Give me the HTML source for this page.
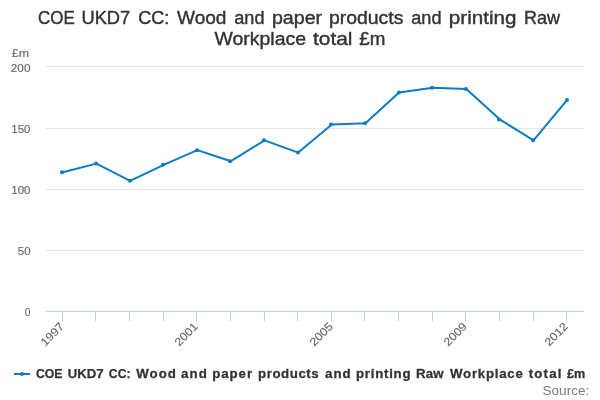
<!DOCTYPE html>
<html lang="en"><head><meta charset="utf-8"><title>COE UKD7 CC: Wood and paper products and printing Raw Workplace total £m</title><style>
html,body{margin:0;padding:0;background:#fff;overflow:hidden;}
svg{display:block;font-family:"Liberation Sans",sans-serif;will-change:transform;}
</style></head><body>
<svg width="600" height="400" viewBox="0 0 600 400">
<rect width="600" height="400" fill="#fff"/>
<path d="M46 66.5H584M46 128.5H584M46 189.5H584M46 250.5H584" stroke="#e6e6e6" stroke-width="1" shape-rendering="crispEdges"/>
<path d="M46 311.5H584M62.5 311V321M95.5 311V321M129.5 311V321M163.5 311V321M196.5 311V321M230.5 311V321M264.5 311V321M297.5 311V321M331.5 311V321M364.5 311V321M398.5 311V321M432.5 311V321M465.5 311V321M499.5 311V321M533.5 311V321M566.5 311V321" stroke="#c3cfea" stroke-width="1" fill="none" shape-rendering="crispEdges"/>
<polyline points="62.81 172.20 96.44 163.62 130.06 180.78 163.69 164.85 197.31 150.15 230.94 161.18 264.56 140.35 298.19 152.60 331.81 124.43 365.44 123.20 399.06 92.58 432.69 87.68 466.31 88.90 499.94 119.53 533.56 140.35 567.19 99.93" fill="none" stroke="#0a7cc4" stroke-width="2" stroke-linejoin="round" stroke-linecap="round"/>
<g fill="#0a7cc4"><circle cx="62" cy="172.20" r="2"/><circle cx="96" cy="163.62" r="2"/><circle cx="130" cy="180.78" r="2"/><circle cx="163" cy="164.85" r="2"/><circle cx="197" cy="150.15" r="2"/><circle cx="230" cy="161.18" r="2"/><circle cx="264" cy="140.35" r="2"/><circle cx="298" cy="152.60" r="2"/><circle cx="331" cy="124.43" r="2"/><circle cx="365" cy="123.20" r="2"/><circle cx="399" cy="92.58" r="2"/><circle cx="432" cy="87.68" r="2"/><circle cx="466" cy="88.90" r="2"/><circle cx="499" cy="119.53" r="2"/><circle cx="533" cy="140.35" r="2"/><circle cx="567" cy="99.93" r="2"/></g>
<g fill="#333" font-size="18.4" stroke="#333" stroke-width="0.4">
<text x="38.0" y="24" textLength="36.75" lengthAdjust="spacingAndGlyphs">COE</text>
<text x="81.51" y="24" textLength="48.72" lengthAdjust="spacingAndGlyphs">UKD7</text>
<text x="138.25" y="24" textLength="31.09" lengthAdjust="spacingAndGlyphs">CC:</text>
<text x="177.0" y="24" textLength="49.49" lengthAdjust="spacingAndGlyphs">Wood</text>
<text x="234.25" y="24" textLength="30.22" lengthAdjust="spacingAndGlyphs">and</text>
<text x="271.93" y="24" textLength="50.2" lengthAdjust="spacingAndGlyphs">paper</text>
<text x="328.94" y="24" textLength="74.51" lengthAdjust="spacingAndGlyphs">products</text>
<text x="411.25" y="24" textLength="30.22" lengthAdjust="spacingAndGlyphs">and</text>
<text x="448.88" y="24" textLength="67.63" lengthAdjust="spacingAndGlyphs">printing</text>
<text x="524.02" y="24" textLength="36.03" lengthAdjust="spacingAndGlyphs">Raw</text>
<text x="214.5" y="45" textLength="91.49" lengthAdjust="spacingAndGlyphs">Workplace</text>
<text x="313.0" y="45" textLength="39.48" lengthAdjust="spacingAndGlyphs">total</text>
<text x="359.25" y="45" textLength="26.08" lengthAdjust="spacingAndGlyphs">£m</text>
</g>
<g fill="#666" font-size="11.3" stroke="#666" stroke-width="0.15">
<text x="11.8" y="57" textLength="17.15" lengthAdjust="spacingAndGlyphs">£m</text>
<text x="10.8" y="72" textLength="19.7" lengthAdjust="spacingAndGlyphs">200</text>
<text x="11.3" y="133" textLength="19.19" lengthAdjust="spacingAndGlyphs">150</text>
<text x="11.3" y="194" textLength="19.19" lengthAdjust="spacingAndGlyphs">100</text>
<text x="17.8" y="255" textLength="12.69" lengthAdjust="spacingAndGlyphs">50</text>
<text x="24.8" y="316" textLength="5.65" lengthAdjust="spacingAndGlyphs">0</text>
</g>
<g fill="#666" font-size="11.3" stroke="#666" stroke-width="0.15">
<text x="37.20" y="327.2" textLength="27.5" lengthAdjust="spacingAndGlyphs" transform="rotate(-45 64.70 327.2)">1997</text>
<text x="171.20" y="327.2" textLength="27.5" lengthAdjust="spacingAndGlyphs" transform="rotate(-45 198.70 327.2)">2001</text>
<text x="306.20" y="327.2" textLength="27.5" lengthAdjust="spacingAndGlyphs" transform="rotate(-45 333.70 327.2)">2005</text>
<text x="440.20" y="327.2" textLength="27.5" lengthAdjust="spacingAndGlyphs" transform="rotate(-45 467.70 327.2)">2009</text>
<text x="541.20" y="327.2" textLength="27.5" lengthAdjust="spacingAndGlyphs" transform="rotate(-45 568.70 327.2)">2012</text>
</g>
<path d="M14 374H30" stroke="#0a7cc4" stroke-width="2"/><circle cx="22" cy="374" r="2" fill="#0a7cc4"/>
<g fill="#333" font-weight="bold" font-size="12.3" stroke="#333" stroke-width="0.25">
<text x="36.0" y="378" textLength="26.5" lengthAdjust="spacingAndGlyphs">COE</text>
<text x="67.7" y="378" textLength="35.83" lengthAdjust="spacingAndGlyphs">UKD7</text>
<text x="108.8" y="378" textLength="21.79" lengthAdjust="spacingAndGlyphs">CC:</text>
<text transform="translate(136.3 378) scale(1.08 1)" letter-spacing="0.901">Wood</text>
<text transform="translate(181.1 378) scale(1.08 1)" letter-spacing="0.991">and</text>
<text transform="translate(212.3 378) scale(1.08 1)" letter-spacing="0.834">paper</text>
<text transform="translate(258.1 378) scale(1.08 1)" letter-spacing="0.504">products</text>
<text transform="translate(325.1 378) scale(1.08 1)" letter-spacing="0.853">and</text>
<text transform="translate(356.0 378) scale(1.08 1)" letter-spacing="0.679">printing</text>
<text transform="translate(416.0 378) scale(1.08 1)" letter-spacing="0.103">Raw</text>
<text transform="translate(450.0 378) scale(1.08 1)" letter-spacing="0.683">Workplace</text>
<text transform="translate(528.7 378) scale(1.08 1)" letter-spacing="1.092">total</text>
<text x="567.0" y="378" textLength="18.23" lengthAdjust="spacingAndGlyphs">£m</text>
</g>
<g fill="#7c7c7c" font-size="12.5">
<text x="542.5" y="395" textLength="46.76" lengthAdjust="spacingAndGlyphs">Source:</text>
</g>
</svg>
</body></html>
